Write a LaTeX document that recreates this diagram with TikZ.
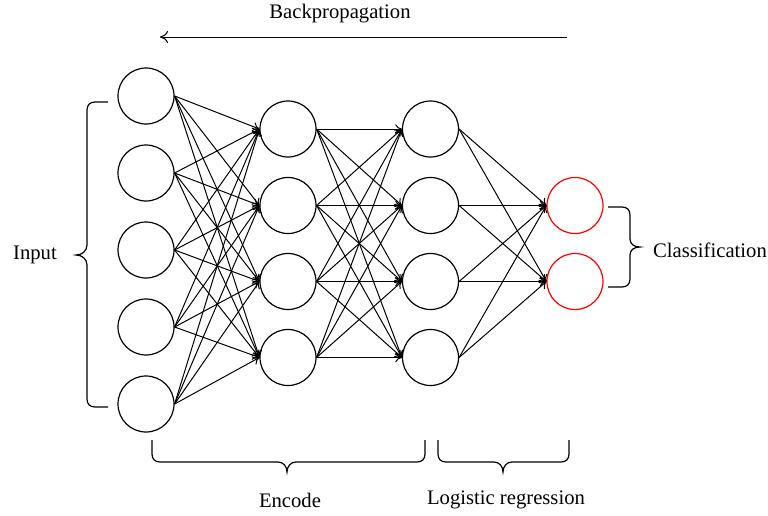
\documentclass[tikz,border=0pt]{standalone}
\usepackage{fontspec}
\setmainfont{Liberation Serif}
\usetikzlibrary{arrows.meta}
\begin{document}
\begin{tikzpicture}[x=0.75pt,y=-0.75pt,
  neuron/.style={circle,draw,line width=0.9pt,minimum size=42pt,inner sep=0pt},
  outneuron/.style={neuron,draw=red},
  conn/.style={line width=0.75pt,-{To[length=5pt,width=7pt]}},
  bracepath/.style={line width=0.9pt},
  lbl/.style={font=\fontsize{15.5}{18}\selectfont,inner sep=0pt}]
\useasboundingbox (0,0) rectangle (768,515);
% layers
\foreach \i/\y in {1/96,2/173,3/250,4/327,5/404}
  \node[neuron] (a\i) at (146,\y) {};
\foreach \i/\y in {1/129,2/205.5,3/281.5,4/357.5}
  \node[neuron] (b\i) at (288,\y) {};
\foreach \i/\y in {1/129,2/205.5,3/281.5,4/357.5}
  \node[neuron] (c\i) at (430.5,\y) {};
\node[outneuron] (d1) at (575,205.5) {};
\node[outneuron] (d2) at (575,281.5) {};
% connections
\foreach \i in {1,...,5}
  \foreach \j in {1,...,4}
    \draw[conn] (a\i.east) -- (b\j.west);
\foreach \i in {1,...,4}
  \foreach \j in {1,...,4}
    \draw[conn] (b\i.east) -- (c\j.west);
\foreach \i in {1,...,4}
  \foreach \j in {1,2}
    \draw[conn] (c\i.east) -- (d\j.west);
% left brace
\draw[bracepath] (108,102) -- (95,102) .. controls (90,102) and (87,105) .. (87,110) -- (87,245)
  .. controls (87,251) and (82,255) .. (76,255) .. controls (82,255) and (87,259) .. (87,265)
  -- (87,399) .. controls (87,404) and (90,407) .. (95,407) -- (108,407);
% right brace
\draw[bracepath] (608,207) -- (622,207) .. controls (627,207) and (630,210) .. (630,215) -- (630,239)
  .. controls (630,244) and (634,247) .. (640,247) .. controls (634,247) and (630,250) .. (630,255)
  -- (630,279) .. controls (630,284) and (627,287) .. (622,287) -- (608,287);
% bottom braces
\draw[bracepath] (152,440) -- (152,454) .. controls (152,459) and (155,462) .. (160,462) -- (278,462)
  .. controls (283,462) and (287,466) .. (287,472) .. controls (287,466) and (291,462) .. (296,462)
  -- (417,462) .. controls (422,462) and (425,459) .. (425,454) -- (425,440);
\draw[bracepath] (438,440) -- (438,454) .. controls (438,459) and (441,462) .. (446,462) -- (494,462)
  .. controls (499,462) and (503,466) .. (503,472) .. controls (503,466) and (507,462) .. (512,462)
  -- (561,462) .. controls (566,462) and (569,459) .. (569,454) -- (569,440);
% labels
\node[lbl] (input) at (35,255) {Input};
\node[lbl] (cls) at (710,250) {Classification};
\node[lbl] (enc) at (290,500) {Encode};
\node[lbl] (logreg) at (506,500) {Logistic regression};
\node[lbl] (bp) at (340,14) {Backpropagation};
\coordinate (bpR) at (567,37);
\coordinate (bpL) at (160,37);
\draw[line width=0.75pt,-{To[length=6pt,width=9pt]}] (bpR) -- (bpL);
\end{tikzpicture}
\end{document}
